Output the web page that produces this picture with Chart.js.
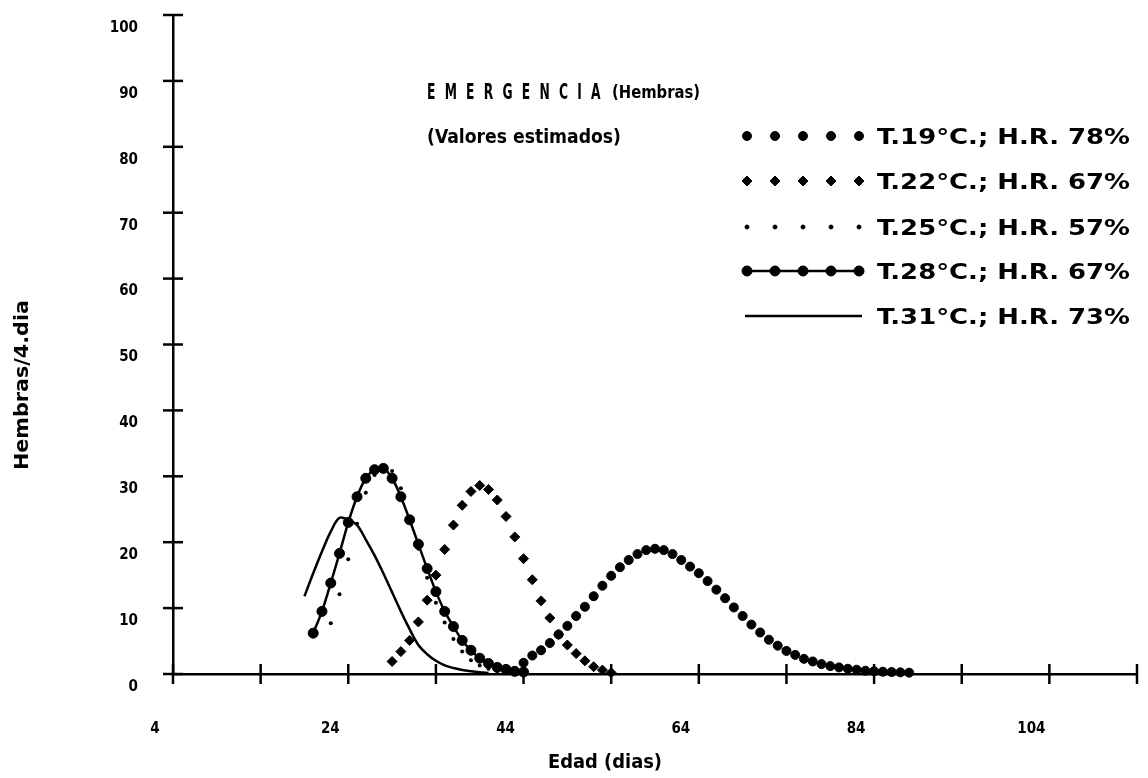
<!DOCTYPE html>
<html>
<head>
<meta charset="utf-8">
<script src="https://cdn.jsdelivr.net/npm/chart.js@4.4.1/dist/chart.umd.min.js"></script>
<style>
  html, body { margin: 0; padding: 0; background: #fff; }
  canvas { display: block; }
</style>
</head>
<body>
<canvas id="c" width="1148" height="778"></canvas>
<script>
// Daily emergence of females (estimated values) for five temperature / humidity regimes.
const days19 = [44,45,46,47,48,49,50,51,52,53,54,55,56,57,58,59,60,61,62,63,64,65,66,67,68,69,70,71,72,73,74,75,76,77,78,79,80,81,82,83,84,85,86,87,88];
const vals19 = [1.7,2.8,3.6,4.7,6.0,7.3,8.8,10.2,11.8,13.4,14.9,16.2,17.3,18.2,18.8,19.0,18.8,18.2,17.3,16.3,15.3,14.1,12.8,11.5,10.1,8.8,7.5,6.3,5.2,4.3,3.5,2.9,2.3,1.9,1.5,1.2,1.0,0.8,0.65,0.5,0.42,0.35,0.3,0.25,0.2];

const days22 = [29,30,31,32,33,34,35,36,37,38,39,40,41,42,43,44,45,46,47,48,49,50,51,52,53,54];
const vals22 = [1.9,3.4,5.1,7.9,11.2,15.0,18.9,22.6,25.6,27.7,28.6,28.0,26.4,23.9,20.8,17.5,14.3,11.1,8.5,6.0,4.4,3.1,2.0,1.1,0.6,0.2];

const days25 = [22,23,24,25,26,27,28,29,30,31,32,33,34,35,36,37,38,39,40,41,42];
const vals25 = [7.7,12.1,17.4,22.8,27.5,30.2,31.4,30.8,28.2,23.8,19.0,14.6,10.8,7.8,5.3,3.4,2.1,1.3,0.8,0.5,0.3];

const days28 = [20,21,22,23,24,25,26,27,28,29,30,31,32,33,34,35,36,37,38,39,40,41,42,43,44];
const vals28 = [6.2,9.5,13.8,18.3,23.0,26.9,29.7,31.0,31.2,29.7,26.9,23.4,19.7,16.0,12.5,9.5,7.2,5.1,3.6,2.4,1.6,1.0,0.7,0.4,0.3];

const days31 = [19,20,21,22,23,24,25,26,27,28,29,30,31,32,33,34,35,36,37,38,39,40];
const vals31 = [11.8,15.3,18.6,21.6,23.7,23.4,22.6,20.4,18.0,15.3,12.4,9.5,6.8,4.4,3.0,2.0,1.3,0.9,0.6,0.4,0.25,0.15];

const seriesLabels = ['T.19°C.; H.R. 78%', 'T.22°C.; H.R. 67%', 'T.25°C.; H.R. 57%', 'T.28°C.; H.R. 67%', 'T.31°C.; H.R. 73%'];
const xLabelDays = [4, 24, 44, 64, 84, 104];
const titleMain = 'E M E R G E N C I A';
const titleSub = '(Hembras)';
const noteText = '(Valores estimados)';
const xTitle = 'Edad (dias)';
const yTitle = 'Hembras/4.dia';

const FONT = "'DejaVu Sans Condensed','DejaVu Sans',sans-serif";
const INK = '#000';

const pts = (d, v) => d.map((x, i) => ({ x: x, y: v[i] }));

// Draw text squeezed/stretched to a given width
function fitText(ctx, text, x, y, w, font, rot, spacing) {
  ctx.save();
  ctx.font = font;
  if (spacing) ctx.letterSpacing = spacing;
  const m = ctx.measureText(text).width;
  ctx.translate(x, y);
  if (rot) ctx.rotate(rot);
  ctx.scale(w / m, 1);
  ctx.textBaseline = 'alphabetic';
  ctx.textAlign = 'left';
  ctx.fillStyle = INK;
  ctx.fillText(text, 0, 0);
  ctx.restore();
}

function marker(ctx, ds, x, y) {
  const opts = {
    pointStyle: ds.pointStyle,
    radius: ds.pointRadius,
    borderWidth: ds.pointBorderWidth || 1,
    rotation: 0
  };
  ctx.fillStyle = ds.pointBackgroundColor;
  ctx.strokeStyle = ds.pointBorderColor;
  ctx.lineWidth = opts.borderWidth;
  Chart.helpers.drawPoint(ctx, opts, x, y);
}

// Fixed plot-area geometry
function pinBox(s, key, size) {
  s[key] = size;
  s.paddingLeft = 0; s.paddingRight = 0; s.paddingTop = 0; s.paddingBottom = 0;
}

const inkPlugin = {
  id: 'ink',
  beforeDraw(chart) {
    const { ctx, width, height } = chart;
    ctx.save();
    ctx.fillStyle = '#fff';
    ctx.fillRect(0, 0, width, height);
    ctx.restore();
  },
  afterDraw(chart) {
    const ctx = chart.ctx;
    const xs = chart.scales.x, ys = chart.scales.y;
    const x0 = xs.left, y0 = ys.bottom;
    ctx.save();
    ctx.strokeStyle = INK;
    ctx.lineWidth = 2.5;
    // cross-shaped tick marks
    xs.ticks.forEach(t => {
      const px = xs.getPixelForValue(t.value);
      ctx.beginPath(); ctx.moveTo(px, y0 - 10); ctx.lineTo(px, y0 + 10); ctx.stroke();
    });
    ys.ticks.forEach(t => {
      const py = ys.getPixelForValue(t.value);
      ctx.beginPath(); ctx.moveTo(x0 - 10, py); ctx.lineTo(x0 + 10, py); ctx.stroke();
    });
    ctx.restore();

    // heading and note
    fitText(ctx, titleMain, 427, 99, 176, 'bold 22px ' + FONT, 0, '4px');
    fitText(ctx, titleSub, 612, 98, 88, 'bold 18px ' + FONT);
    fitText(ctx, noteText, 427, 143, 194, 'bold 19px ' + FONT);

    // legend: five sample marks + label per series
    const rows = [136, 181, 227, 271, 316];
    const sx = [747, 775, 803, 831, 859];
    chart.data.datasets.forEach((ds, i) => {
      const ry = rows[i];
      ctx.save();
      if (ds.showLine !== false) {
        ctx.strokeStyle = ds.borderColor;
        ctx.lineWidth = ds.borderWidth;
        ctx.beginPath(); ctx.moveTo(745, ry); ctx.lineTo(862, ry); ctx.stroke();
      }
      if (ds.pointRadius > 0) sx.forEach(px => marker(ctx, ds, px, ry));
      ctx.restore();
      fitText(ctx, seriesLabels[i], 877, ry + 8, 253, 'bold 22px ' + FONT);
    });

    // axis titles
    fitText(ctx, xTitle, 548, 768, 114, 'bold 19px ' + FONT);
    fitText(ctx, yTitle, 28, 470, 170, 'bold 19px ' + FONT, -Math.PI / 2);
  }
};

new Chart(document.getElementById('c'), {
  type: 'line',
  data: {
    datasets: [
      { data: pts(days19, vals19), showLine: false, pointStyle: 'circle', pointRadius: 4.5,
        pointBackgroundColor: INK, pointBorderColor: INK, pointBorderWidth: 1, borderColor: INK, clip: false },
      { data: pts(days22, vals22), showLine: false, pointStyle: 'rectRot', pointRadius: 5,
        pointBackgroundColor: INK, pointBorderColor: INK, pointBorderWidth: 1, borderColor: INK, clip: false },
      { data: pts(days25, vals25), showLine: false, pointStyle: 'circle', pointRadius: 2,
        pointBackgroundColor: INK, pointBorderColor: INK, pointBorderWidth: 0, borderColor: INK, clip: false },
      { data: pts(days28, vals28), showLine: true, borderColor: INK, borderWidth: 2.5, tension: 0.3,
        pointStyle: 'circle', pointRadius: 5, pointBackgroundColor: INK, pointBorderColor: INK, pointBorderWidth: 1, clip: false },
      { data: pts(days31, vals31), showLine: true, borderColor: INK, borderWidth: 2.5, tension: 0.35,
        pointRadius: 0, pointBackgroundColor: INK, pointBorderColor: INK, clip: false }
    ]
  },
  options: {
    responsive: false,
    animation: false,
    devicePixelRatio: 1,
    layout: { padding: { top: 15, right: 11, left: 0, bottom: 0 }, autoPadding: false },
    plugins: { legend: { display: false }, tooltip: { enabled: false }, title: { display: false } },
    elements: { line: { fill: false } },
    scales: {
      x: {
        type: 'linear', min: 4, max: 114,
        afterFit(s) { pinBox(s, 'height', 104); },
        grid: { display: false },
        border: { display: true, color: INK, width: 2.5 },
        ticks: {
          stepSize: 10, autoSkip: false, maxRotation: 0, padding: 38, labelOffset: -18,
          color: INK, font: { family: FONT, size: 15, weight: 'bold' },
          callback: v => (xLabelDays.includes(v) ? String(v) : '')
        }
      },
      y: {
        type: 'linear', min: 0, max: 100,
        afterFit(s) { pinBox(s, 'width', 173); },
        grid: { display: false },
        border: { display: true, color: INK, width: 2.5 },
        ticks: {
          stepSize: 10, autoSkip: false, padding: 27, labelOffset: 13,
          color: INK, font: { family: FONT, size: 15, weight: 'bold' }
        }
      }
    }
  },
  plugins: [inkPlugin]
});
</script>
</body>
</html>
